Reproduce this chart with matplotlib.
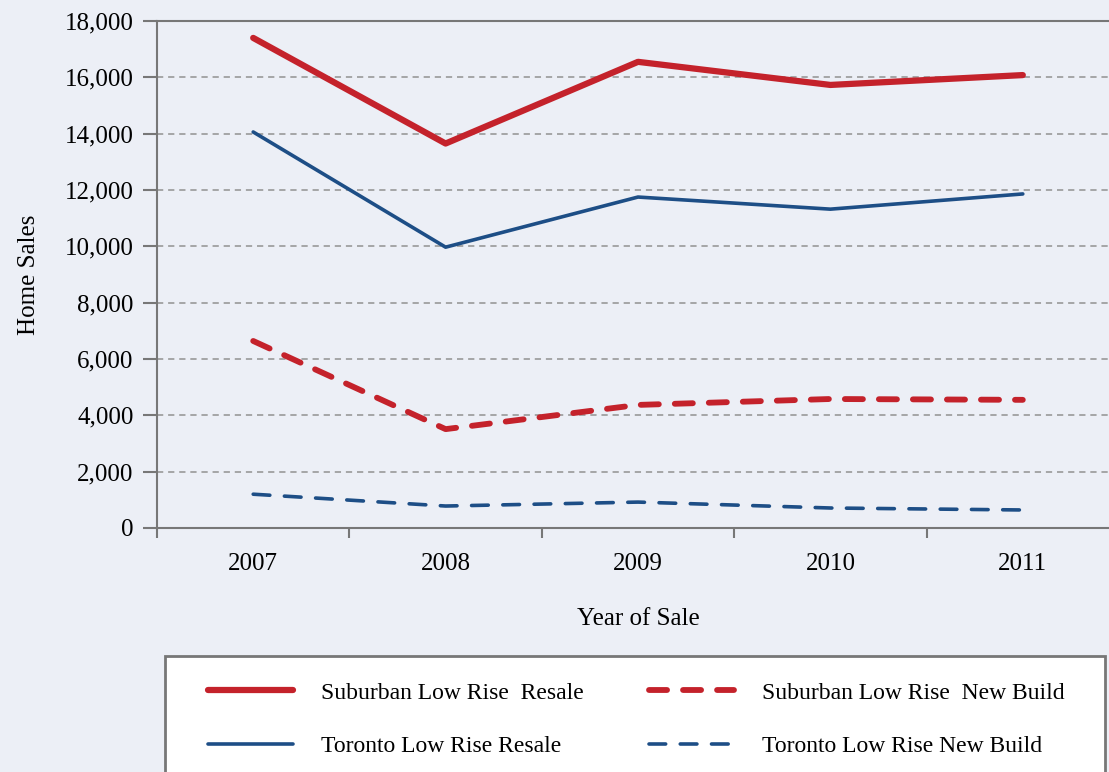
import matplotlib
matplotlib.use("Agg")
import matplotlib.pyplot as plt
from matplotlib.patches import Rectangle

years = ["2007", "2008", "2009", "2010", "2011"]
suburban_resale = [17400, 13650, 16550, 15730, 16080]
toronto_resale = [14060, 9970, 11750, 11320, 11860]
suburban_new = [6640, 3510, 4370, 4580, 4550]
toronto_new = [1200, 780, 920, 710, 640]

RED = "#c4222b"
BLUE = "#1d4e86"
BG = "#eceff6"

plt.rcParams["font.family"] = ["Liberation Serif", "DejaVu Serif"]
plt.rcParams["lines.scale_dashes"] = False

fig = plt.figure(figsize=(11.09, 7.72), dpi=100, facecolor=BG)
ax = fig.add_axes([157/1109, 1-528/772, 962/1109, 507/772])
ax.set_facecolor(BG)

x = range(len(years))
l1, = ax.plot(x, suburban_resale, color=RED, lw=4.5, solid_capstyle="round",
              label="Suburban Low Rise  Resale")
l2, = ax.plot(x, toronto_resale, color=BLUE, lw=2.6, solid_capstyle="round",
              label="Toronto Low Rise Resale")
l3, = ax.plot(x, suburban_new, color=RED, lw=4.2, dashes=(13, 11.5),
              dash_capstyle="round", label="Suburban Low Rise  New Build")
l4, = ax.plot(x, toronto_new, color=BLUE, lw=2.6, dashes=(12, 10.5),
              dash_capstyle="round", label="Toronto Low Rise New Build")

ax.set_xlim(-0.5, 4.5)
ax.set_ylim(0, 18000)
ax.set_yticks(range(0, 18001, 2000))
ax.set_yticklabels([f"{v:,}" for v in range(0, 18001, 2000)])
ax.set_xticks(list(x))
ax.set_xticklabels(years)
ax.set_xticks([i - 0.5 for i in range(6)], minor=True)
ax.tick_params(axis="x", which="major", length=0, pad=18, labelsize=18)
ax.tick_params(axis="x", which="minor", length=7, width=1.5, color="#777777")
ax.tick_params(axis="y", length=10, width=1.5, color="#777777", pad=7, labelsize=18)
ax.yaxis.grid(True, color="#999999", lw=1.2, dashes=(4.5, 3.5))
ax.set_axisbelow(True)

for s in ["left", "bottom", "top"]:
    ax.spines[s].set_color("#777777")
    ax.spines[s].set_linewidth(1.5)
ax.spines["right"].set_visible(False)

ax.set_ylabel("Home Sales", fontsize=18, labelpad=18)
ax.set_xlabel("Year of Sale", fontsize=18, labelpad=24)

# legend box
fig.patches.append(Rectangle((165/1109, -0.05), 940/1109, 1-656/772+0.05,
                             transform=fig.transFigure, facecolor="white",
                             edgecolor="#777777", lw=2))
for hs, xl in [([l1, l2], 208), ([l3, l4], 649)]:
    fig.legend(handles=hs, loc="upper left", bbox_to_anchor=(xl/1109, 1-682/772),
               frameon=False, fontsize=17, handlelength=3.6, handletextpad=1.2,
               labelspacing=1.35, borderpad=0, borderaxespad=0)

fig.savefig("out.png", dpi=100, facecolor=BG)
